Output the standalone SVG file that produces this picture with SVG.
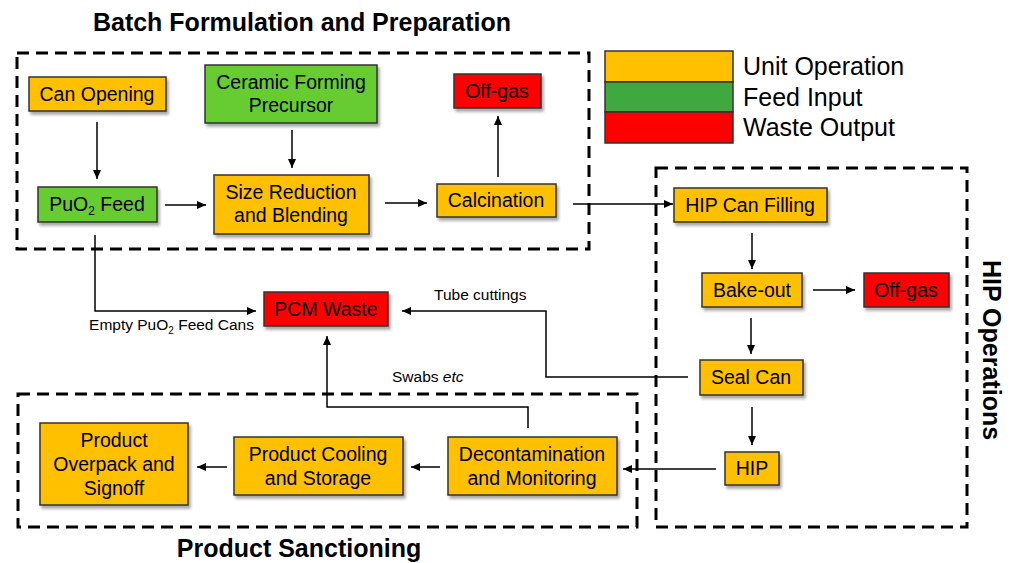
<svg xmlns="http://www.w3.org/2000/svg" width="1010" height="563" viewBox="0 0 1010 563">
<defs>
<filter id="sh" x="-20%" y="-20%" width="150%" height="160%">
<feDropShadow dx="2" dy="3" stdDeviation="1.8" flood-color="#000" flood-opacity="0.35"/>
</filter>
<marker id="ah" markerUnits="userSpaceOnUse" markerWidth="9" markerHeight="8" refX="9" refY="4" orient="auto">
<path d="M0,0 L9,4 L0,8 z" fill="#000"/>
</marker>
</defs>
<style>
text{font-family:"Liberation Sans",Arial,sans-serif;fill:#000}
.n{font-size:19.5px;text-anchor:middle}
.t{font-size:25px;font-weight:bold;text-anchor:middle}
.s{font-size:15.5px}
.lg{font-size:25px}
.o{fill:#FFC000;stroke:#333;stroke-width:1.5;filter:url(#sh)}
.g{fill:#66CC33;stroke:#333;stroke-width:1.5;filter:url(#sh)}
.r{fill:#FF0000;stroke:#333;stroke-width:1.5;filter:url(#sh)}
.d{fill:none;stroke:#000;stroke-width:3;stroke-dasharray:12 7}
.c{fill:none;stroke:#000;stroke-width:1.5;marker-end:url(#ah)}
</style>
<rect width="1010" height="563" fill="#fff"/>

<g id="groups">
<rect class="d" x="17" y="53" width="572" height="196"/>
<rect class="d" x="656" y="168" width="311" height="359"/>
<rect class="d" x="18" y="394" width="619" height="133"/>
<text class="t" x="302" y="31">Batch Formulation and Preparation</text>
<text class="t" x="299" y="557">Product Sanctioning</text>
<text class="t" transform="translate(992,350) rotate(90)" x="0" y="9">HIP Operations</text>
</g>

<g id="legend">
<rect x="605" y="51" width="128" height="31" fill="#FFC000" stroke="#333" stroke-width="1.5"/>
<rect x="605" y="82" width="128" height="30" fill="#3FA83F" stroke="#333" stroke-width="1.5"/>
<rect x="605" y="112" width="128" height="31" fill="#FF0000" stroke="#333" stroke-width="1.5"/>
<text class="lg" x="743" y="75">Unit Operation</text>
<text class="lg" x="743" y="106">Feed Input</text>
<text class="lg" x="743" y="136">Waste Output</text>
</g>

<g id="connectors">
<path class="c" d="M97,122 V179"/>
<path class="c" d="M292,130 V168"/>
<path class="c" d="M165,205 H206"/>
<path class="c" d="M385,203 H427"/>
<path class="c" d="M498,177 V116"/>
<path class="c" d="M573,204 H673"/>
<path class="c" d="M95,235 V311 H256"/>
<path class="c" d="M688,377 H546 V311 H402"/>
<path class="c" d="M528,428 V407 H327 V336"/>
<path class="c" d="M716,469 H623"/>
<path class="c" d="M440,467 H411"/>
<path class="c" d="M227,467 H197"/>
<path class="c" d="M752,233 V269"/>
<path class="c" d="M813,290 H855"/>
<path class="c" d="M751,318 V354"/>
<path class="c" d="M752,407 V445"/>
<text class="s" x="254" y="330" text-anchor="end">Empty PuO<tspan font-size="10" dy="4">2</tspan><tspan dy="-4"> Feed Cans</tspan></text>
<text class="s" x="434" y="300">Tube cuttings</text>
<text class="s" x="392" y="382">Swabs <tspan font-style="italic">etc</tspan></text>
</g>

<g id="can-opening"><rect class="o" x="29" y="77" width="137" height="34"/><text class="n" x="97" y="101">Can Opening</text></g>
<g id="ceramic"><rect class="g" x="205" y="65" width="172" height="58"/><text class="n" x="291" y="89">Ceramic Forming</text><text class="n" x="291" y="112">Precursor</text></g>
<g id="offgas-1"><rect class="r" x="454" y="74" width="87" height="34"/><text class="n" x="497" y="98">Off-gas</text></g>
<g id="puo2-feed"><rect class="g" x="38" y="187" width="119" height="35"/><text class="n" x="97" y="211">PuO<tspan font-size="12" dy="4">2</tspan><tspan dy="-4"> Feed</tspan></text></g>
<g id="size-reduction"><rect class="o" x="214" y="175" width="155" height="59"/><text class="n" x="291" y="199">Size Reduction</text><text class="n" x="291" y="222">and Blending</text></g>
<g id="calcination"><rect class="o" x="437" y="184" width="119" height="33"/><text class="n" x="496" y="207">Calcination</text></g>
<g id="hip-can-filling"><rect class="o" x="674" y="188" width="153" height="34"/><text class="n" x="750" y="212">HIP Can Filling</text></g>
<g id="bake-out"><rect class="o" x="702" y="273" width="100" height="34"/><text class="n" x="752" y="297">Bake-out</text></g>
<g id="offgas-2"><rect class="r" x="864" y="273" width="85" height="34"/><text class="n" x="906" y="297">Off-gas</text></g>
<g id="seal-can"><rect class="o" x="700" y="360" width="103" height="35"/><text class="n" x="751" y="384">Seal Can</text></g>
<g id="hip"><rect class="o" x="725" y="452" width="54" height="33"/><text class="n" x="752" y="475">HIP</text></g>
<g id="pcm-waste"><rect class="r" x="264" y="292" width="124" height="34"/><text class="n" x="326" y="316">PCM Waste</text></g>
<g id="overpack"><rect class="o" x="40" y="423" width="148" height="82"/><text class="n" x="114" y="447">Product</text><text class="n" x="114" y="471">Overpack and</text><text class="n" x="114" y="495">Signoff</text></g>
<g id="cooling"><rect class="o" x="234" y="437" width="169" height="58"/><text class="n" x="318" y="461">Product Cooling</text><text class="n" x="318" y="485">and Storage</text></g>
<g id="decon"><rect class="o" x="448" y="437" width="169" height="58"/><text class="n" x="532" y="461">Decontamination</text><text class="n" x="532" y="485">and Monitoring</text></g>
</svg>
